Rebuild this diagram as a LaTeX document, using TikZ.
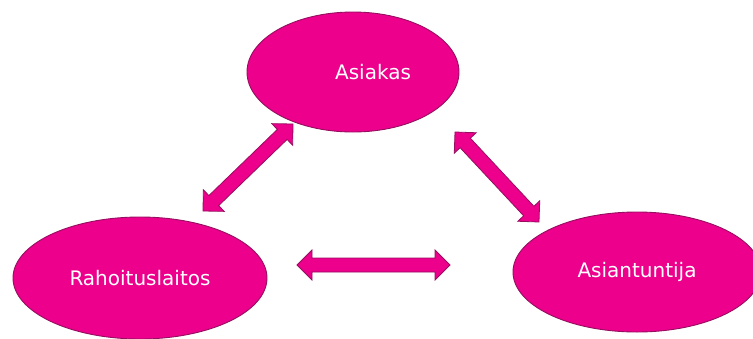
\documentclass[tikz,border=0pt]{standalone}
\usepackage{fontspec}
\setmainfont{DejaVu Sans}
\usetikzlibrary{calc,shapes.geometric}
\definecolor{pinkfill}{RGB}{236,0,140}
\definecolor{pinkline}{RGB}{150,15,95}
% double-headed block arrow between two named coordinates
\newcommand{\blockarrow}[2]{%
  \filldraw[arrowbody]
    (#1)
    -- ($(#1)!15pt!(#2)!15pt!90:(#2)$)
    -- ($(#1)!15pt!(#2)!7pt!90:(#2)$)
    -- ($(#2)!15pt!(#1)!7pt!-90:(#1)$)
    -- ($(#2)!15pt!(#1)!15pt!-90:(#1)$)
    -- (#2)
    -- ($(#2)!15pt!(#1)!15pt!90:(#1)$)
    -- ($(#2)!15pt!(#1)!7pt!90:(#1)$)
    -- ($(#1)!15pt!(#2)!7pt!-90:(#2)$)
    -- ($(#1)!15pt!(#2)!15pt!-90:(#2)$)
    -- cycle;}
\begin{document}
\begin{tikzpicture}[x=1pt,y=-1pt,
  blob/.style={ellipse, fill=pinkfill, draw=pinkline, line width=0.9pt,
    inner sep=0pt, text=white, font=\fontsize{20}{24}\selectfont},
  txt/.style={text=white, font=\fontsize{20}{24}\selectfont, inner sep=0pt},
  arrowbody/.style={fill=pinkfill, draw=pinkline, line width=0.8pt, line join=miter}]
\useasboundingbox (0,0) rectangle (753,338);
\clip (0,0) rectangle (753,338);

\node[blob, minimum width=212pt, minimum height=120pt,
      label={[txt, xshift=20pt]center:Asiakas}] (asiakas) at (353,72) {};
\node[blob, minimum width=254pt, minimum height=122pt] (rahoitus) at (140,278) {Rahoituslaitos};
\node[blob, minimum width=248pt, minimum height=120pt] (asiantuntija) at (637,272) {Asiantuntija};

% arrow end points
\coordinate (l1) at (293,124);
\coordinate (l2) at (203,211);
\coordinate (r1) at (455,132);
\coordinate (r2) at (539,222);
\coordinate (b1) at (297,265);
\coordinate (b2) at (450,265);

\blockarrow{l1}{l2}
\blockarrow{r1}{r2}
\blockarrow{b1}{b2}
\end{tikzpicture}
\end{document}
